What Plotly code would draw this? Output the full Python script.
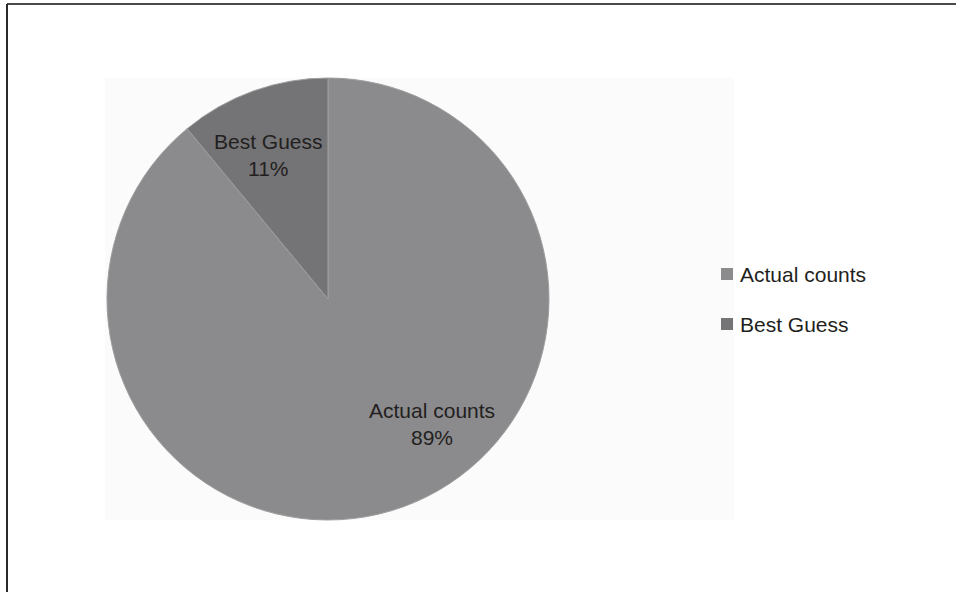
import plotly.graph_objects as go

labels = ["Actual counts", "Best Guess"]
values = [89, 11]
colors = ["#8b8b8d", "#747476"]

W, H = 956, 592
def px(x):
    return x / W
def py(y):
    return 1 - y / H

FONT = "Liberation Sans, Arial, sans-serif"
TXT = "#231f20"

fig = go.Figure()
fig.add_trace(go.Pie(
    labels=labels, values=values, sort=False, direction="clockwise", rotation=0,
    marker=dict(colors=colors, line=dict(color="#9e9e9e", width=1)),
    textinfo="none",
    domain=dict(x=[px(105), px(551)], y=[py(520), py(78)]),
    showlegend=False, hoverinfo="label+percent",
))

shapes = [
    dict(type="rect", xref="paper", yref="paper", x0=px(105), x1=px(734), y0=py(520), y1=py(78),
         fillcolor="#fbfbfb", line=dict(width=0), layer="below"),
    dict(type="line", xref="paper", yref="paper", x0=px(7), x1=1, y0=py(4), y1=py(4),
         line=dict(color="#4a4a4a", width=2)),
    dict(type="line", xref="paper", yref="paper", x0=px(7), x1=px(7), y0=py(4), y1=0,
         line=dict(color="#2a2a2a", width=2)),
]
annotations = []

# slice labels (Excel-style placement)
total = sum(values)
label_pos = [(432, 424), (268, 155)]
for lab, val, (xx, yy) in zip(labels, values, label_pos):
    pct = round(100 * val / total)
    annotations.append(dict(text=f"{lab}<br>{pct}%", xref="paper", yref="paper",
                            x=px(xx), y=py(yy), xanchor="center", yanchor="middle",
                            showarrow=False, align="center",
                            font=dict(family=FONT, size=21, color=TXT)))

# legend
leg_y = [274, 324]
for lab, col, yy in zip(labels, colors, leg_y):
    shapes.append(dict(type="rect", xref="paper", yref="paper", x0=px(721), x1=px(733),
                       y0=py(yy + 6), y1=py(yy - 6), fillcolor=col, line=dict(width=0)))
    annotations.append(dict(text=lab, xref="paper", yref="paper", x=px(738), y=py(yy),
                            xanchor="left", yanchor="middle", showarrow=False,
                            font=dict(family=FONT, size=21, color=TXT)))

fig.update_layout(
    width=W, height=H, margin=dict(l=0, r=0, t=0, b=0),
    paper_bgcolor="white", plot_bgcolor="white",
    shapes=shapes, annotations=annotations,
)
fig.write_html("out.html")
